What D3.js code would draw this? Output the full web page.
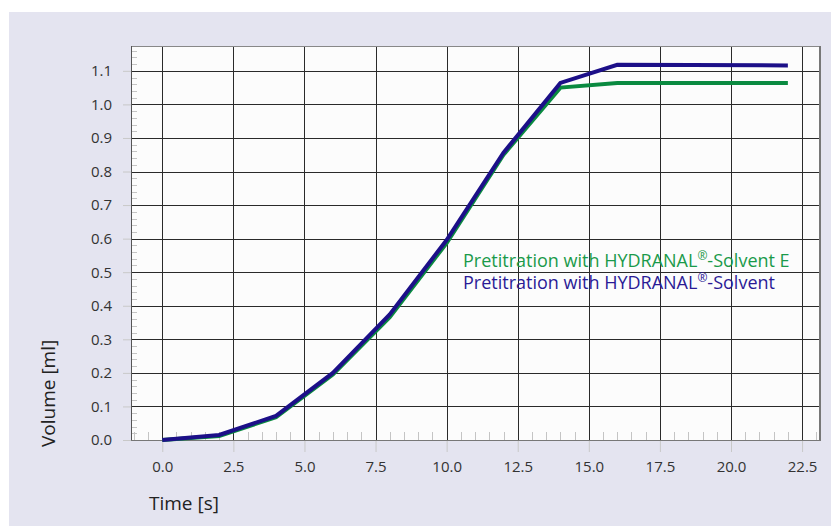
<!DOCTYPE html>
<html>
<head>
<meta charset="utf-8">
<script src="https://cdn.jsdelivr.net/npm/d3@7"></script>
<style>
  body { margin: 0; background: #fff; }
  text { font-family: "Open Sans", "Noto Sans", sans-serif; }
</style>
</head>
<body>
<svg id="chart" width="831" height="526"></svg>
<script>
const times = [0, 2, 4, 6, 8, 10, 12, 14, 16, 22];
const solventE = [0, 0.012, 0.068, 0.195, 0.366, 0.587, 0.85, 1.05, 1.064, 1.064];
const solvent = [0, 0.015, 0.072, 0.2, 0.374, 0.596, 0.856, 1.064, 1.118, 1.116];
const xTicks = [0, 2.5, 5, 7.5, 10, 12.5, 15, 17.5, 20, 22.5];
const yTicks = [0, 0.1, 0.2, 0.3, 0.4, 0.5, 0.6, 0.7, 0.8, 0.9, 1.0, 1.1];
const seriesNames = ["Pretitration with HYDRANAL®-Solvent E", "Pretitration with HYDRANAL®-Solvent"];
const seriesColors = ["#0a8a40", "#1c0f88"];
const labelColors = ["#1a9a4a", "#2a1a96"];

const svg = d3.select("#chart");
const plot = {left: 131, top: 46, right: 820, bottom: 440};

// lavender frame
svg.append("rect")
    .attr("x", 9).attr("y", 12)
    .attr("width", 822).attr("height", 514)
    .attr("fill", "#e4e4f0");

const x = d3.scaleLinear().domain([-1.1, 23.13]).range([plot.left, plot.right]);
const y = d3.scaleLinear().domain([0, 1.174]).range([plot.bottom, plot.top]);

svg.append("rect")
    .attr("x", plot.left).attr("y", plot.top)
    .attr("width", plot.right - plot.left).attr("height", plot.bottom - plot.top)
    .attr("fill", "#fcfcfc");

// minor ticks inside the plot
const xMinor = d3.range(-1, 23.1, 0.5).filter(v => Math.abs(v / 2.5 - Math.round(v / 2.5)) > 1e-6);
svg.append("g").selectAll("line").data(xMinor).join("line")
    .attr("x1", d => Math.round(x(d)) + 0.5).attr("x2", d => Math.round(x(d)) + 0.5)
    .attr("y1", plot.bottom).attr("y2", plot.bottom - 8)
    .attr("stroke", "#c4c4c4").attr("stroke-width", 1);

const yMinor = d3.range(0.02, 1.17, 0.02).filter(v => Math.abs(v * 10 - Math.round(v * 10)) > 1e-6);
svg.append("g").selectAll("line").data(yMinor).join("line")
    .attr("y1", d => Math.round(y(d)) + 0.5).attr("y2", d => Math.round(y(d)) + 0.5)
    .attr("x1", plot.left).attr("x2", plot.left + 6)
    .attr("stroke", "#c4c4c4").attr("stroke-width", 1);

// axes with grid lines
const xAxis = svg.append("g")
    .attr("transform", `translate(0,${plot.bottom})`)
    .call(d3.axisBottom(x).tickValues(xTicks).tickFormat(d3.format(".1f")).tickSize(12).tickPadding(9));
xAxis.select(".domain").remove();
xAxis.selectAll(".tick line").attr("stroke", "#c8c8c8");
xAxis.selectAll(".tick text").attr("fill", "#333").style("font-size", "15px");

const yAxis = svg.append("g")
    .attr("transform", `translate(${plot.left},0)`)
    .call(d3.axisLeft(y).tickValues(yTicks).tickFormat(d3.format(".1f")).tickSize(8).tickPadding(11));
yAxis.select(".domain").remove();
yAxis.selectAll(".tick line").attr("stroke", "#c8c8c8");
yAxis.selectAll(".tick text").attr("fill", "#333").style("font-size", "15px");

const grid = svg.append("g");
grid.selectAll(".vx").data(xTicks).join("line")
    .attr("x1", d => Math.round(x(d)) + 0.5).attr("x2", d => Math.round(x(d)) + 0.5)
    .attr("y1", plot.top).attr("y2", plot.bottom)
    .attr("stroke", "#2a2a2a").attr("stroke-width", 1);
grid.selectAll(".hy").data(yTicks.slice(1)).join("line")
    .attr("y1", d => Math.round(y(d)) + 0.5).attr("y2", d => Math.round(y(d)) + 0.5)
    .attr("x1", plot.left).attr("x2", plot.right)
    .attr("stroke", "#2a2a2a").attr("stroke-width", 1);

// plot border
svg.append("line").attr("x1", plot.left).attr("x2", plot.right)
    .attr("y1", plot.top + 0.5).attr("y2", plot.top + 0.5).attr("stroke", "#888");
svg.append("line").attr("x1", plot.left).attr("x2", plot.right)
    .attr("y1", plot.bottom + 0.5).attr("y2", plot.bottom + 0.5).attr("stroke", "#777");
svg.append("line").attr("x1", plot.left + 0.5).attr("x2", plot.left + 0.5)
    .attr("y1", plot.top).attr("y2", plot.bottom).attr("stroke", "#555");
svg.append("line").attr("x1", plot.right).attr("x2", plot.right)
    .attr("y1", plot.top).attr("y2", plot.bottom + 1).attr("stroke", "#777").attr("stroke-width", 2);

// series
const line = d3.line().x(d => x(d[0])).y(d => y(d[1]));
[solventE, solvent].forEach((vals, i) => {
    svg.append("path")
        .datum(times.map((t, j) => [t, vals[j]]))
        .attr("d", line)
        .attr("fill", "none")
        .attr("stroke", seriesColors[i])
        .attr("stroke-width", 4)
        .attr("stroke-linejoin", "miter");
});

// legend
seriesNames.forEach((name, i) => {
    const t = svg.append("text")
        .attr("x", 463).attr("y", 267 + i * 22)
        .attr("fill", labelColors[i])
        .style("font-size", "18px");
    const parts = name.split("®");
    t.append("tspan").text(parts[0]);
    t.append("tspan").text("®").attr("dy", -7).style("font-size", "12px");
    t.append("tspan").text(parts[1]).attr("dy", 7);
});

// axis titles
svg.append("text")
    .attr("x", 149).attr("y", 510)
    .attr("fill", "#222").style("font-size", "19px")
    .text("Time [s]");
svg.append("text")
    .attr("transform", "translate(55,447) rotate(-90)")
    .attr("fill", "#222").style("font-size", "19px")
    .text("Volume [ml]");
</script>
</body>
</html>
